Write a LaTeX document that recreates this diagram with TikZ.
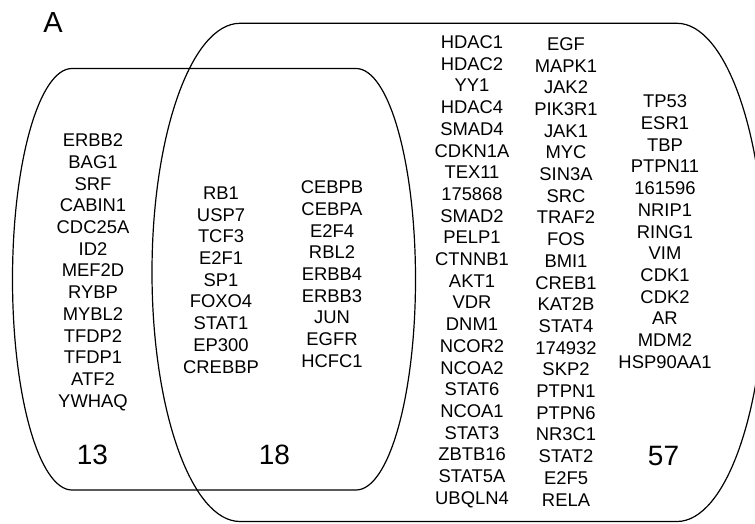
\documentclass[tikz,border=0pt]{standalone}
\usepackage{fontspec}
\setmainfont{Liberation Sans}
\usepackage{tikz}
\usetikzlibrary{positioning}
\tikzset{
  setline/.style={line width=1.2pt,line join=round},
  genes/.style={align=center,inner sep=0pt,
    font=\fontsize{18.4}{21.7}\selectfont},
  count/.style={inner sep=0pt,font=\fontsize{28}{30}\selectfont},
}

\begin{document}
\begin{tikzpicture}[x=1pt,y=1pt]
\path[use as bounding box,clip] (0,0) rectangle (755,523);

% the two sets
\draw[setline] (72,454.5) -- (356,454.5)
  arc[start angle=90,end angle=-90,x radius=59.5,y radius=210.75]
  -- (72,33)
  arc[start angle=270,end angle=90,x radius=59.5,y radius=210.75] -- cycle;
\draw[setline] (240,499.7) -- (677,499.7)
  arc[start angle=90,end angle=-90,x radius=88,y radius=249.1]
  -- (240,1.5)
  arc[start angle=270,end angle=90,x radius=88,y radius=249.1] -- cycle;

\node[inner sep=0pt,font=\fontsize{29}{31}\selectfont] (panel) at (53,500.5) {A};

% gene lists
\node[genes] (only1) at (93,250.75) {ERBB2\\BAG1\\SRF\\CABIN1\\CDC25A\\ID2\\MEF2D\\RYBP\\MYBL2\\TFDP2\\TFDP1\\ATF2\\YWHAQ};
\node[genes] (both1) at (221,243) {RB1\\USP7\\TCF3\\E2F1\\SP1\\FOXO4\\STAT1\\EP300\\CREBBP};
\node[genes] (both2) at (332,248.75) {CEBPB\\CEBPA\\E2F4\\RBL2\\ERBB4\\ERBB3\\JUN\\EGFR\\HCFC1};
\node[genes] (only2a) at (472,251.25) {HDAC1\\HDAC2\\YY1\\HDAC4\\SMAD4\\CDKN1A\\TEX11\\175868\\SMAD2\\PELP1\\CTNNB1\\AKT1\\VDR\\DNM1\\NCOR2\\NCOA2\\STAT6\\NCOA1\\STAT3\\ZBTB16\\STAT5A\\UBQLN4};
\node[genes] (only2b) at (566,251.25) {EGF\\MAPK1\\JAK2\\PIK3R1\\JAK1\\MYC\\SIN3A\\SRC\\TRAF2\\FOS\\BMI1\\CREB1\\KAT2B\\STAT4\\174932\\SKP2\\PTPN1\\PTPN6\\NR3C1\\STAT2\\E2F5\\RELA};
\node[genes] (only2c) at (665,291.25) {TP53\\ESR1\\TBP\\PTPN11\\161596\\NRIP1\\RING1\\VIM\\CDK1\\CDK2\\AR\\MDM2\\HSP90AA1};

% counts
\node[count] (n13) at (92.5,68) {13};
\node[count] (n18) at (274.5,68) {18};
\node[count] (n57) at (663.5,67) {57};
\end{tikzpicture}
\end{document}
